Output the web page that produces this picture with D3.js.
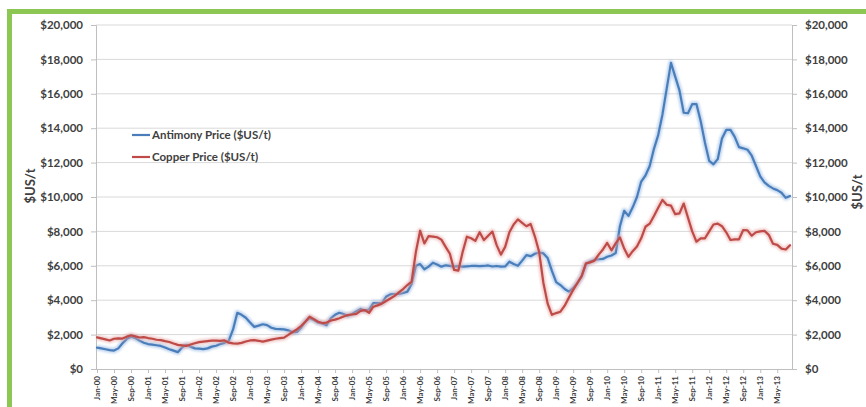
<!DOCTYPE html>
<html>
<head>
<meta charset="utf-8">
<script src="https://cdn.jsdelivr.net/npm/d3@7"></script>
<style>
  html, body { margin: 0; padding: 0; background: #ffffff; }
  svg { display: block; }
</style>
</head>
<body>
<svg id="chart" width="866" height="407"></svg>
<script>
// ---- Data ----
const monthNames = ["Jan","Feb","Mar","Apr","May","Jun","Jul","Aug","Sep","Oct","Nov","Dec"];
const years = ["00","01","02","03","04","05","06","07","08","09","10","11","12","13"];
const lastMonthIndex2013 = 7; // Aug-13
const tickLabels = ["Jan-00","May-00","Sep-00","Jan-01","May-01","Sep-01","Jan-02","May-02","Sep-02",
  "Jan-03","May-03","Sep-03","Jan-04","May-04","Sep-04","Jan-05","May-05","Sep-05","Jan-06","May-06","Sep-06",
  "Jan-07","May-07","Sep-07","Jan-08","May-08","Sep-08","Jan-09","May-09","Sep-09","Jan-10","May-10","Sep-10",
  "Jan-11","May-11","Sep-11","Jan-12","May-12","Sep-12","Jan-13","May-13"];
const yTicks = [0,2000,4000,6000,8000,10000,12000,14000,16000,18000,20000];

const antimony = [
  1240,1200,1150,1100,1070,1200,1500,1750,1880,1800,1650,1530,
  1450,1420,1380,1340,1250,1150,1070,980,1250,1400,1300,1200,
  1180,1160,1200,1300,1350,1450,1520,1650,2300,3270,3150,2980,
  2700,2450,2520,2600,2550,2400,2330,2320,2300,2250,2130,2150,
  2400,2750,2950,2850,2700,2650,2550,2950,3150,3270,3200,3100,
  3200,3350,3490,3400,3450,3830,3830,3830,4200,4340,4360,4360,
  4420,4500,4950,6000,6100,5800,5950,6180,6080,5950,6030,6000,
  5950,5980,5950,5970,5990,6000,5980,5990,6020,5960,5990,5950,
  5960,6240,6100,6000,6300,6620,6560,6700,6770,6720,6450,5700,
  5050,4880,4650,4500,4700,5000,5400,6100,6250,6340,6380,6400,
  6530,6600,6740,8300,9200,8900,9400,10000,10900,11250,11800,12800,
  13600,14800,16300,17800,17000,16200,14900,14870,15400,15400,14400,13150,
  12100,11900,12200,13400,13900,13900,13500,12900,12830,12750,12400,11800,
  11200,10850,10650,10500,10400,10250,9950,10060
];
const copper = [
  1840,1780,1720,1660,1760,1780,1770,1880,1960,1900,1830,1850,
  1800,1760,1700,1680,1620,1570,1480,1400,1370,1340,1420,1500,
  1560,1590,1620,1650,1650,1640,1660,1530,1490,1480,1520,1600,
  1660,1680,1640,1590,1650,1710,1760,1790,1820,1980,2150,2300,
  2500,2750,3040,2900,2750,2670,2700,2820,2870,2950,3050,3140,
  3170,3200,3380,3420,3270,3620,3700,3800,3950,4100,4250,4450,
  4650,4880,5080,6800,8040,7300,7730,7700,7660,7520,7100,6700,
  5760,5720,6800,7690,7600,7450,7950,7500,7750,7990,7200,6650,
  7100,7950,8400,8700,8500,8300,8430,7700,6800,5000,3800,3150,
  3250,3330,3680,4150,4600,5000,5400,6140,6200,6300,6650,6950,
  7330,6900,7300,7650,7000,6520,6850,7120,7600,8270,8450,8900,
  9380,9830,9550,9500,9000,9050,9620,8800,8000,7400,7600,7600,
  8000,8400,8450,8300,7950,7500,7540,7540,8080,8060,7750,7950,
  8000,8030,7800,7280,7220,7000,6950,7200
];
const seriesNames = ["Antimony Price ($US/t)", "Copper Price ($US/t)"];
const axisTitle = "$US/t";

(function () {
// build month categories
const months = [];
years.forEach((yy, yi) => {
  monthNames.forEach((m, mi) => {
    if (yi === years.length - 1 && mi > lastMonthIndex2013) return;
    months.push(m + "-" + yy);
  });
});

// ---- Drawing ----
const svg = d3.select("#chart");
const pLeft = 96, pRight = 792, pTop = 25, pBottom = 369;
const textColor = "#404040";
const font = "Lato, 'Liberation Sans', sans-serif";

// green frame
svg.append("rect").attr("x", 9.5).attr("y", 11.5).attr("width", 880).attr("height", 420)
  .attr("fill", "#ffffff").attr("stroke", "#8cc653").attr("stroke-width", 5);

const x = d3.scalePoint().domain(months).range([97, 790]);
const y = d3.scaleLinear().domain([0, 20000]).range([pBottom, pTop]);

// gridlines
svg.append("g").selectAll("line").data(yTicks.filter(d => d > 0)).join("line")
  .attr("x1", pLeft).attr("x2", pRight)
  .attr("y1", d => y(d)).attr("y2", d => y(d))
  .attr("stroke", "#d9d9d9").attr("stroke-width", 1);

const fmt = d => "$" + d3.format(",")(d);

// left axis
const gl = svg.append("g").attr("transform", `translate(${pLeft},0)`)
  .call(d3.axisLeft(y).tickValues(yTicks).tickFormat(fmt).tickSize(5).tickPadding(8));
// right axis
const gr = svg.append("g").attr("transform", `translate(${pRight},0)`)
  .call(d3.axisRight(y).tickValues(yTicks).tickFormat(fmt).tickSize(5).tickPadding(8));
[gl, gr].forEach(g => {
  g.select(".domain").attr("stroke", "#bfbfbf");
  g.selectAll(".tick line").attr("stroke", "#bfbfbf");
  g.selectAll("text").attr("fill", textColor).attr("font-family", font)
    .attr("font-weight", "bold").attr("font-size", "11.5px");
});

// bottom axis
const gx = svg.append("g").attr("transform", `translate(0,${pBottom})`)
  .call(d3.axisBottom(x).tickValues(tickLabels).tickSize(4).tickSizeOuter(0));
gx.select(".domain").attr("stroke", "#bfbfbf").attr("d", `M${pLeft},0.5H${pRight}`);
gx.selectAll(".tick line").attr("stroke", "#bfbfbf");
gx.selectAll("text")
  .attr("fill", textColor).attr("font-family", font).attr("font-weight", "bold")
  .attr("font-size", "8px")
  .attr("text-anchor", "end")
  .attr("transform", "rotate(-90)")
  .attr("x", -7).attr("y", 0).attr("dy", "0.32em");

// glow filter
const defs = svg.append("defs");
defs.append("filter").attr("id", "glow").attr("x", "-5%").attr("y", "-5%").attr("width", "110%").attr("height", "110%")
  .append("feGaussianBlur").attr("stdDeviation", 1.3);

const line = d3.line().x((d, i) => x(months[i])).y(d => y(d));

const series = [
  {values: antimony, color: "#4a7ebb", glow: "#8db3e2"},
  {values: copper, color: "#be4b48", glow: "#e6a3a1"}
];
series.forEach(s => {
  svg.append("path").datum(s.values).attr("d", line)
    .attr("fill", "none").attr("stroke", s.glow).attr("stroke-width", 5.5)
    .attr("stroke-opacity", 0.55).attr("filter", "url(#glow)").attr("stroke-linejoin", "round");
  svg.append("path").datum(s.values).attr("d", line)
    .attr("fill", "none").attr("stroke", s.color).attr("stroke-width", 2.2)
    .attr("stroke-linejoin", "round").attr("stroke-linecap", "round");
});

// legend
const lg = svg.append("g");
seriesNames.forEach((name, i) => {
  const ly = 135 + i * 22;
  lg.append("line").attr("x1", 132).attr("x2", 150).attr("y1", ly).attr("y2", ly)
    .attr("stroke", series[i].color).attr("stroke-width", 2.2);
  lg.append("text").attr("x", 152).attr("y", ly).attr("dy", "0.35em")
    .attr("fill", textColor).attr("font-family", font).attr("font-weight", "bold")
    .attr("font-size", "11.5px").text(name);
});

// axis titles
svg.append("text").attr("transform", "translate(35,186) rotate(-90)")
  .attr("text-anchor", "middle").attr("fill", textColor).attr("font-family", font)
  .attr("font-weight", "bold").attr("font-size", "13px").text(axisTitle);
svg.append("text").attr("transform", "translate(862,192) rotate(-90)")
  .attr("text-anchor", "middle").attr("fill", textColor).attr("font-family", font)
  .attr("font-weight", "bold").attr("font-size", "13px").text(axisTitle);
})();
</script>
</body>
</html>
